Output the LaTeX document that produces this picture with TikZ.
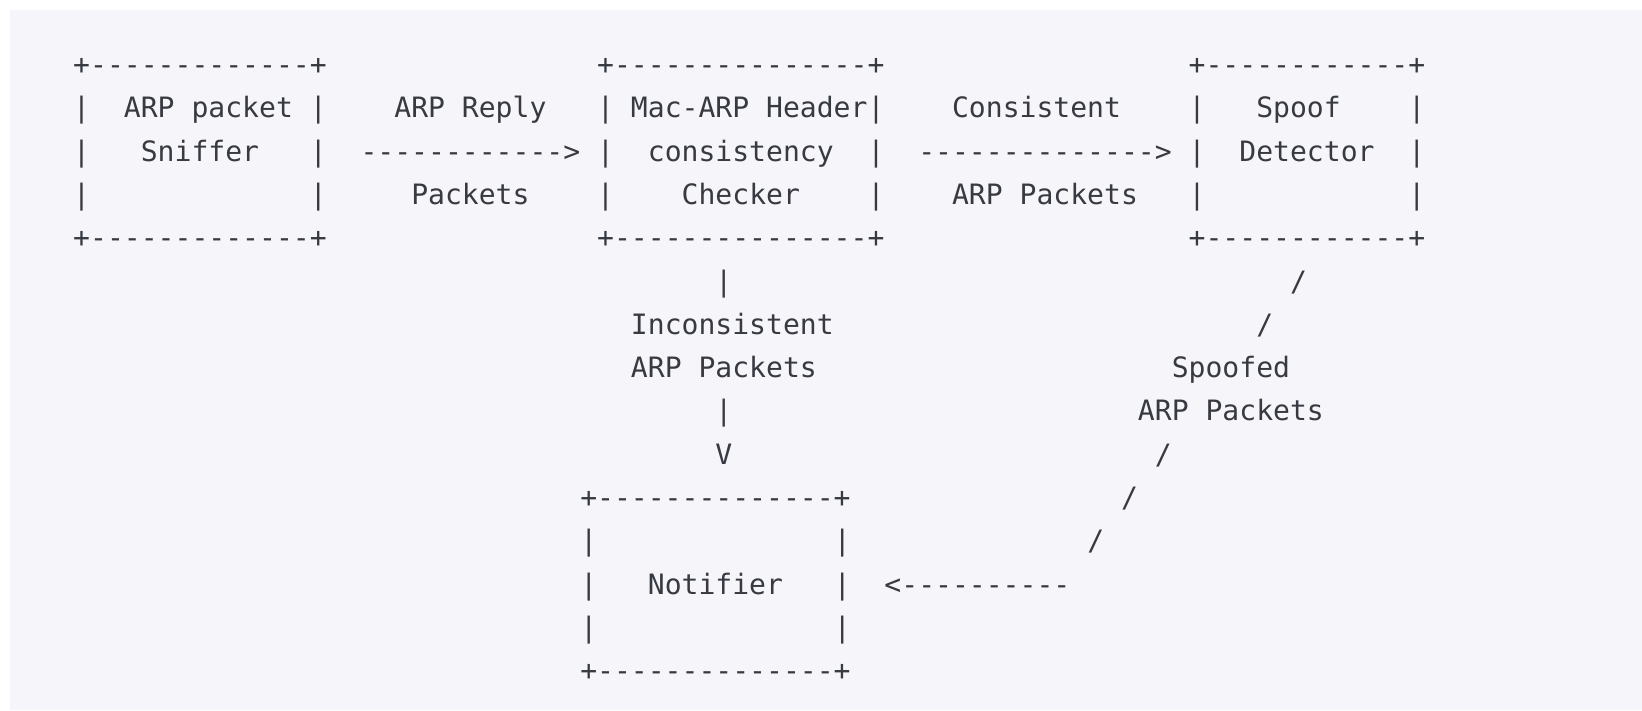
\documentclass[tikz,border=0pt]{standalone}
\usepackage{fontspec}
\setmonofont{DejaVu Sans Mono}
\usepackage{tikz}
\definecolor{codebg}{RGB}{246,246,250}
\definecolor{codetext}{RGB}{56,58,66}
\tikzstyle{ascii} = [anchor=base west, inner sep=0pt, outer sep=0pt,
    text=codetext, font=\ttfamily\fontsize{28.07}{34}\selectfont]

\begin{document}
\begin{tikzpicture}[x=16.9pt, y=-43.3pt]
    % Frame
    \useasboundingbox (-4.3343,-1.7206) rectangle (92.825,14.6767);
    \fill [codebg] (-3.7426,-1.4896) rectangle (92.825,14.6767);
    % Sniffer box
    \node [ascii] (sniffertop) at (0,0) {+-------------+};
    \node [ascii] (snifferl1) at (0,1) {|};
    \node [ascii] (sniffera) at (3,1) {ARP packet};
    \node [ascii] (snifferr1) at (14,1) {|};
    \node [ascii] (snifferl2) at (0,2) {|};
    \node [ascii] (snifferb) at (4,2) {Sniffer};
    \node [ascii] (snifferr2) at (14,2) {|};
    \node [ascii] (snifferl3) at (0,3) {|};
    \node [ascii] (snifferr3) at (14,3) {|};
    \node [ascii] (snifferbot) at (0,4) {+-------------+};
    % Checker box
    \node [ascii] (checkertop) at (31,0) {+---------------+};
    \node [ascii] (checkerl1) at (31,1) {|};
    \node [ascii] (checkera) at (33,1) {Mac-ARP Header};
    \node [ascii] (checkerr1) at (47,1) {|};
    \node [ascii] (checkerl2) at (31,2) {|};
    \node [ascii] (checkerb) at (34,2) {consistency};
    \node [ascii] (checkerr2) at (47,2) {|};
    \node [ascii] (checkerl3) at (31,3) {|};
    \node [ascii] (checkerc) at (36,3) {Checker};
    \node [ascii] (checkerr3) at (47,3) {|};
    \node [ascii] (checkerbot) at (31,4) {+---------------+};
    % Detector box
    \node [ascii] (detectortop) at (66,0) {+------------+};
    \node [ascii] (detectorl1) at (66,1) {|};
    \node [ascii] (detectora) at (70,1) {Spoof};
    \node [ascii] (detectorr1) at (79,1) {|};
    \node [ascii] (detectorl2) at (66,2) {|};
    \node [ascii] (detectorb) at (69,2) {Detector};
    \node [ascii] (detectorr2) at (79,2) {|};
    \node [ascii] (detectorl3) at (66,3) {|};
    \node [ascii] (detectorr3) at (79,3) {|};
    \node [ascii] (detectorbot) at (66,4) {+------------+};
    % Notifier box
    \node [ascii] (notifiertop) at (30,10) {+--------------+};
    \node [ascii] (notifierl1) at (30,11) {|};
    \node [ascii] (notifierr1) at (45,11) {|};
    \node [ascii] (notifierl2) at (30,12) {|};
    \node [ascii] (notifiera) at (34,12) {Notifier};
    \node [ascii] (notifierr2) at (45,12) {|};
    \node [ascii] (notifierl3) at (30,13) {|};
    \node [ascii] (notifierr3) at (45,13) {|};
    \node [ascii] (notifierbot) at (30,14) {+--------------+};
    % Reply packets
    \node [ascii] (replya) at (19,1) {ARP Reply};
    \node [ascii] (replyarrow) at (17,2) {------------>};
    \node [ascii] (replyb) at (20,3) {Packets};
    % Consistent packets
    \node [ascii] (consista) at (52,1) {Consistent};
    \node [ascii] (consistarrow) at (50,2) {-------------->};
    \node [ascii] (consistb) at (52,3) {ARP Packets};
    % Inconsistent packets
    \node [ascii] (incbar1) at (38,5) {|};
    \node [ascii] (inca) at (33,6) {Inconsistent};
    \node [ascii] (incb) at (33,7) {ARP Packets};
    \node [ascii] (incbar2) at (38,8) {|};
    \node [ascii] (inchead) at (38,9) {V};
    % Spoofed packets
    \node [ascii] (spoofs1) at (72,5) {/};
    \node [ascii] (spoofs2) at (70,6) {/};
    \node [ascii] (spoofa) at (65,7) {Spoofed};
    \node [ascii] (spoofb) at (63,8) {ARP Packets};
    \node [ascii] (spoofs3) at (64,9) {/};
    \node [ascii] (spoofs4) at (62,10) {/};
    \node [ascii] (spoofs5) at (60,11) {/};
    \node [ascii] (spoofarrow) at (48,12) {<----------};
\end{tikzpicture}
\end{document}
